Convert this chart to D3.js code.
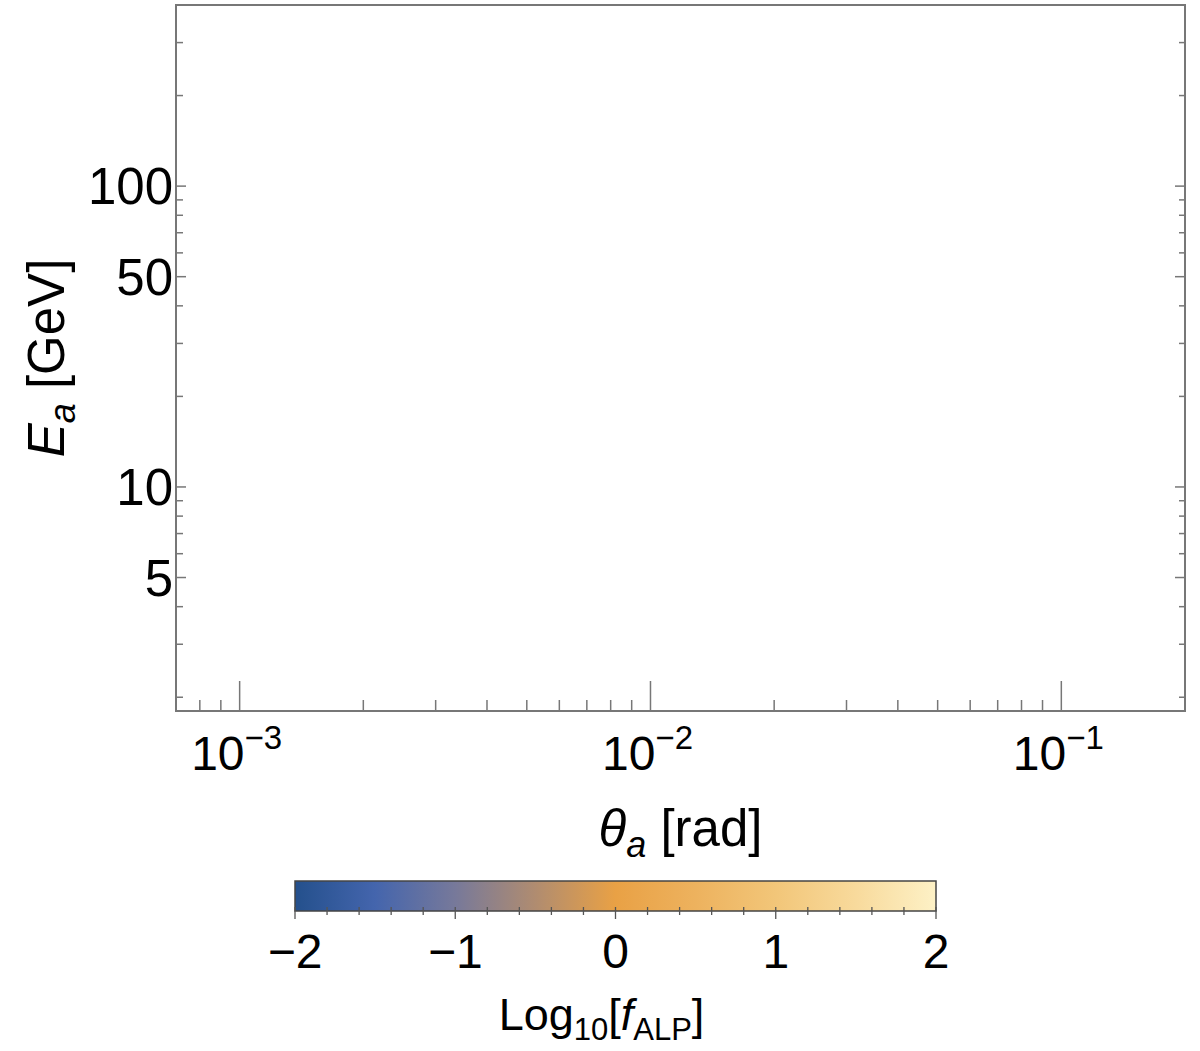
<!DOCTYPE html>
<html><head><meta charset="utf-8">
<script src="https://cdn.jsdelivr.net/npm/d3@7"></script>
<style>
body{margin:0;background:#fff;}
svg{display:block;font-family:"Liberation Sans",Arial,Helvetica,sans-serif;}
</style></head>
<body><svg id="c" width="1200" height="1051"></svg>
<script>
// ---- data ----
const xDomain = [7e-4, 0.2];          // theta_a [rad]
const yDomain = [1.8, 400];           // E_a [GeV]
const xMajorTicks = [1e-3, 1e-2, 1e-1];
const xMajorExponents = ["−3", "−2", "−1"];
const yLabeledTicks = [5, 10, 50, 100];
const yLabels = ["5", "10", "50", "100"];
const cbDomain = [-2, 2];
const cbTicks = [-2, -1, 0, 1, 2];
const cbTickLabels = ["−2", "−1", "0", "1", "2"];
const cbStopValues = [-2, -1.5, -1, -0.5, 0, 0.5, 1, 1.5, 2];
const cbStopColors = ["#24508c", "#4465ad", "#77799a", "#b08c70", "#e9a145", "#edb25e", "#f2c679", "#f8da9c", "#fdf1c6"];

const svg = d3.select("#c");
const L = 176, R = 1185, T = 5, B = 711;
const frameColor = "#777";

const x = d3.scaleLog().domain(xDomain).range([L, R]);
const y = d3.scaleLog().domain(yDomain).range([B, T]);

function logTicks(dom){
  const out=[];
  for(let e=Math.floor(Math.log10(dom[0]));e<=Math.ceil(Math.log10(dom[1]));e++){
    for(let m=1;m<10;m++){const v=m*Math.pow(10,e); if(v>=dom[0]*0.9999&&v<=dom[1]*1.0001) out.push(v);}
  }
  return out;
}
const xAll = logTicks(xDomain);
const yAll = logTicks(yDomain);
const isMajor = v => Math.abs(Math.log10(v)-Math.round(Math.log10(v)))<1e-9;

const g = svg.append("g");
g.selectAll(".xt").data(xAll).join("line")
  .attr("x1",d=>x(d)).attr("x2",d=>x(d))
  .attr("y1",B).attr("y2",d=>B-(isMajor(d)?30:11))
  .attr("stroke",frameColor).attr("stroke-width",1.5);
g.selectAll(".yl").data(yAll).join("line")
  .attr("y1",d=>y(d)).attr("y2",d=>y(d))
  .attr("x1",L).attr("x2",d=>L+((yLabeledTicks.includes(d))?10:7))
  .attr("stroke",frameColor).attr("stroke-width",1.5);
g.selectAll(".yr").data(yAll).join("line")
  .attr("y1",d=>y(d)).attr("y2",d=>y(d))
  .attr("x1",R).attr("x2",d=>R-((yLabeledTicks.includes(d))?10:6))
  .attr("stroke",frameColor).attr("stroke-width",1.5);
g.append("rect").attr("x",L).attr("y",T).attr("width",R-L).attr("height",B-T)
  .attr("fill","none").attr("stroke",frameColor).attr("stroke-width",2);

// x tick labels
const xl = g.selectAll(".xlab").data(xMajorTicks).join("text")
  .attr("x",d=>x(d)-3).attr("y",770).attr("text-anchor","middle")
  .attr("font-size",48).attr("fill","#000");
xl.append("tspan").text("10");
xl.append("tspan").text((d,i)=>xMajorExponents[i]).attr("font-size",33).attr("dy",-21);

// y tick labels
g.selectAll(".ylab").data(yLabeledTicks).join("text")
  .attr("x",L-3).attr("y",d=>y(d)).attr("dy","0.36em").attr("text-anchor","end")
  .attr("font-size",51).attr("fill","#000").text((d,i)=>yLabels[i]);

// axis titles
const xt = svg.append("text").attr("x",(L+R)/2).attr("y",846).attr("text-anchor","middle")
  .attr("font-size",51).attr("fill","#000");
xt.append("tspan").text("θ").attr("font-style","italic");
xt.append("tspan").text("a").attr("font-style","italic").attr("font-size",36).attr("dy",11);
xt.append("tspan").text(" [rad]").attr("dy",-11);

const yt = svg.append("text").attr("transform",`translate(64,${(T+B)/2}) rotate(-90)`)
  .attr("text-anchor","middle").attr("font-size",51).attr("fill","#000");
yt.append("tspan").text("E").attr("font-style","italic");
yt.append("tspan").text("a").attr("font-style","italic").attr("font-size",36).attr("dy",11);
yt.append("tspan").text(" [GeV]").attr("dy",-11);

// colorbar
const cbL=295, cbR=936, cbT=881, cbB=911;
const cx = d3.scaleLinear().domain(cbDomain).range([cbL,cbR]);
const defs = svg.append("defs");
const grad = defs.append("linearGradient").attr("id","cbg").attr("x1","0%").attr("x2","100%");
grad.selectAll("stop").data(cbStopValues).join("stop")
  .attr("offset",d=>((d-cbDomain[0])/(cbDomain[1]-cbDomain[0])*100)+"%")
  .attr("stop-color",(d,i)=>cbStopColors[i]);
svg.append("rect").attr("x",cbL).attr("y",cbT).attr("width",cbR-cbL).attr("height",cbB-cbT)
  .attr("fill","url(#cbg)").attr("stroke","#444").attr("stroke-width",1.5);
const cbMinor = d3.range(cbDomain[0], cbDomain[1]+1e-9, 0.2);
svg.selectAll(".cbt").data(cbMinor).join("line")
  .attr("x1",d=>cx(d)).attr("x2",d=>cx(d))
  .attr("y1",cbB-4).attr("y2",d=>cbB+(Math.abs(d-Math.round(d))<1e-6?8:4))
  .attr("stroke","#555").attr("stroke-width",1.3);
svg.selectAll(".cbl").data(cbTicks).join("text")
  .attr("x",d=>cx(d)).attr("y",968).attr("text-anchor","middle")
  .attr("font-size",48).attr("fill","#000").text((d,i)=>cbTickLabels[i]);
const ct = svg.append("text").attr("x",(cbL+cbR)/2 - 14).attr("y",1030).attr("text-anchor","middle")
  .attr("font-size",45).attr("fill","#000");
ct.append("tspan").text("Log");
ct.append("tspan").text("10").attr("font-size",31).attr("dy",10);
ct.append("tspan").text("[").attr("dy",-10);
ct.append("tspan").text("f").attr("font-style","italic");
ct.append("tspan").text("ALP").attr("font-size",31).attr("dy",10);
ct.append("tspan").text("]").attr("dy",-10);
</script></body></html>
